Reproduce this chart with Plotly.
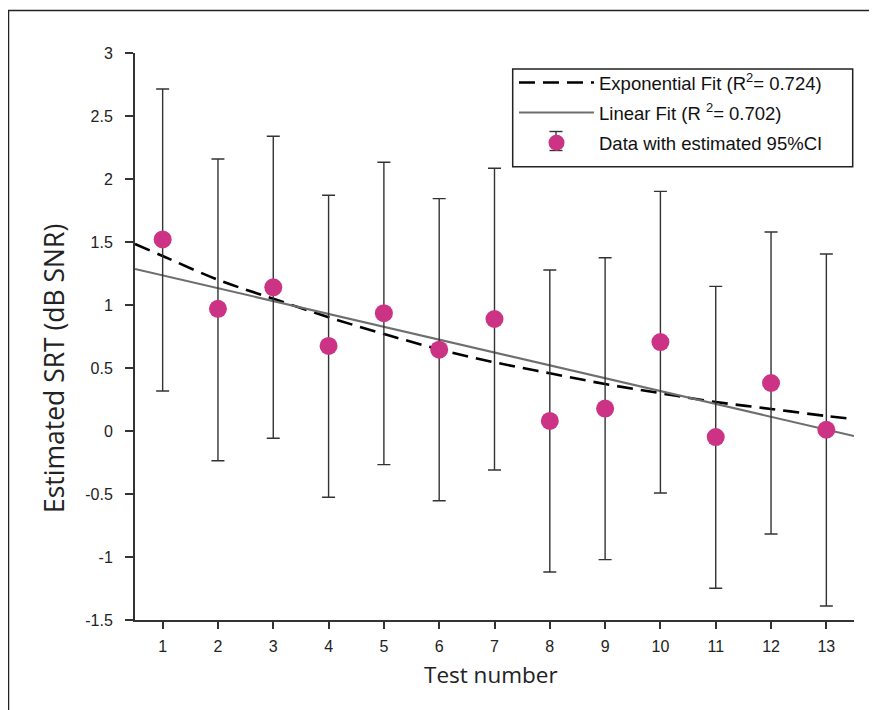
import plotly.graph_objects as go

# ---- data ----
tests = [1, 2, 3, 4, 5, 6, 7, 8, 9, 10, 11, 12, 13]
srt = [1.52, 0.97, 1.14, 0.675, 0.935, 0.645, 0.889, 0.08, 0.178, 0.706, -0.048, 0.381, 0.01]
ci_upper = [2.714, 2.159, 2.339, 1.871, 2.133, 1.844, 2.085, 1.278, 1.375, 1.902, 1.148, 1.579, 1.405]
ci_lower = [0.317, -0.236, -0.058, -0.526, -0.267, -0.553, -0.31, -1.119, -1.021, -0.492, -1.248, -0.817, -1.389]

exp_x = [0.5, 1, 2, 3, 4, 5, 6, 7, 8, 9, 10, 11, 12, 13, 13.5]
exp_y = [1.484, 1.389, 1.2, 1.05, 0.903, 0.77, 0.648, 0.545, 0.458, 0.373, 0.3, 0.23, 0.175, 0.119, 0.095]

lin_x = [0.5, 13.5]
lin_y = [1.286, -0.040]

x_ticks = list(range(1, 14))
y_ticks = [-1.5, -1, -0.5, 0, 0.5, 1, 1.5, 2, 2.5, 3]
y_tick_text = ["-1.5", "-1", "-0.5", "0", "0.5", "1", "1.5", "2", "2.5", "3"]

names = ["Exponential Fit (R<sup>2</sup>= 0.724)",
         "Linear Fit (R <sup>2</sup>= 0.702)",
         "Data with estimated 95%CI"]

err_plus = [u - v for u, v in zip(ci_upper, srt)]
err_minus = [v - l for v, l in zip(srt, ci_lower)]

fig = go.Figure()
fig.add_trace(go.Scatter(x=exp_x, y=exp_y, mode="lines", name=names[0], legendgroup="a",
                         line=dict(color="#000000", width=2.6, dash="16px,8px"), line_shape="spline"))
fig.add_trace(go.Scatter(x=lin_x, y=lin_y, mode="lines", name=names[1], legendgroup="b",
                         line=dict(color="#6e6e6e", width=2)))
fig.add_trace(go.Scatter(x=tests, y=srt, mode="markers", name=names[2], legendgroup="c",
                         marker=dict(color="#cc3385", size=18, line=dict(width=0)),
                         error_y=dict(type="data", symmetric=False, array=err_plus,
                                      arrayminus=err_minus, color="#333333",
                                      thickness=1.4, width=6.5)))

# plot area in page pixels (page has an 8px body margin)
PL, PR, PT, PB = 135, 854, 53, 620
def px(x):
    return (x - PL) / (PR - PL)
def py(y):
    return (PB - y) / (PB - PT)

# legend error-bar glyph (decoration of the legend key)
gx, gtop, gbot, gcap = 556, 131.5, 150.5, 6.5
legend_glyph = [
    dict(type="line", xref="paper", yref="paper", x0=px(gx), x1=px(gx), y0=py(gbot), y1=py(gtop),
         line=dict(color="#333333", width=1.4), layer="above"),
    dict(type="line", xref="paper", yref="paper", x0=px(gx - gcap), x1=px(gx + gcap), y0=py(gtop), y1=py(gtop),
         line=dict(color="#333333", width=1.4), layer="above"),
    dict(type="line", xref="paper", yref="paper", x0=px(gx - gcap), x1=px(gx + gcap), y0=py(gbot), y1=py(gbot),
         line=dict(color="#333333", width=1.4), layer="above"),
]

tick_font = dict(family="Liberation Sans, Arial", size=16, color="#222222")
fig.update_layout(
    width=869, height=702,
    margin=dict(l=127, r=23, t=45, b=90),
    paper_bgcolor="white", plot_bgcolor="white",
    showlegend=True,
    legend=dict(x=px(514), y=py(64), xanchor="left", yanchor="top",
                bgcolor="rgba(0,0,0,0)", borderwidth=0,
                font=dict(family="Liberation Sans, Arial", size=18.5, color="#111111"),
                itemwidth=75, tracegroupgap=3, traceorder="grouped"),
    xaxis=dict(range=[0.5, 13.5], tickmode="array", tickvals=x_ticks,
               showgrid=False, zeroline=False, showline=True, linecolor="#333333",
               linewidth=2, ticks="outside", ticklen=7, tickwidth=2, tickcolor="#333333",
               tickfont=tick_font, ticklabelstandoff=4),
    yaxis=dict(range=[-1.5, 3], tickmode="array", tickvals=y_ticks, ticktext=y_tick_text,
               showgrid=False, zeroline=False, showline=True, linecolor="#333333",
               linewidth=2, ticks="outside", ticklen=8, tickwidth=2, tickcolor="#333333",
               tickfont=tick_font, ticklabelstandoff=9),
    annotations=[
        dict(text="Test number", xref="paper", yref="paper", x=px(491),
             y=py(674), xanchor="center", yanchor="middle", showarrow=False,
             font=dict(family="Open Sans", size=22.5, color="#222222")),
        dict(text="Estimated SRT (dB SNR)", xref="paper", yref="paper", x=px(54),
             y=py(369), xanchor="center", yanchor="middle", showarrow=False,
             textangle=-90, font=dict(family="Open Sans", size=26.5, color="#222222")),
    ],
    shapes=[
        # outer frame
        dict(type="rect", xref="paper", yref="paper", x0=px(8.5), x1=1.5,
             y0=-0.5, y1=py(10.5), line=dict(color="#222222", width=1.5),
             fillcolor="rgba(0,0,0,0)", layer="below"),
        # legend box
        dict(type="rect", xref="paper", yref="paper", x0=px(512.7), x1=px(852.7),
             y0=py(166.7), y1=py(69), line=dict(color="#222222", width=1.5),
             fillcolor="white", layer="above"),
    ] + legend_glyph,
)

fig.write_html("out.html")
